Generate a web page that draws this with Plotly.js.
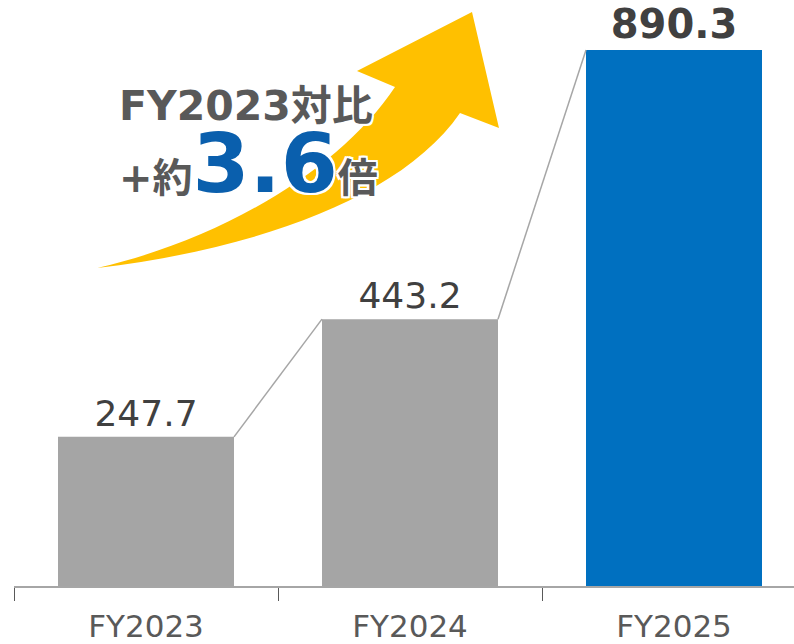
<!DOCTYPE html>
<html>
<head>
<meta charset="utf-8">
<script src="https://cdn.plot.ly/plotly-3.0.1.min.js"></script>
<style>html,body{margin:0;padding:0;background:#fff;}</style>
</head>
<body>
<div id="chart" style="width:794px;height:644px;"></div>
<script>
var categories = ["FY2023", "FY2024", "FY2025"];
var values = [247.7, 443.2, 890.3];
var barColors = ["#a5a5a5", "#a5a5a5", "#0070c0"];
var calloutLine1 = "FY2023対比";
var calloutPrefix = "+約";
var calloutRatio = "3.6";
var calloutSuffix = "倍";

var FONT = 'DejaVu Sans, "Noto Sans CJK JP", sans-serif';
var W = 794, H = 644, ML = 14, MR = 0, MT = 0, MB = 58;
var PW = W - ML - MR, PH = H - MT - MB;
function px(x) { return (x - ML) / PW; }
function py(y) { return (H - MB - y) / PH; }

var halfBar = 1 / 3;

var shapes = [];
// connector lines between bar tops
for (var i = 0; i < values.length - 1; i++) {
  shapes.push({
    type: "line", xref: "x", yref: "y",
    x0: i + halfBar, y0: values[i],
    x1: i + 1 - halfBar, y1: values[i + 1],
    line: {color: "#a6a6a6", width: 1.5}
  });
}
// curved arrow (decoration), pixel points converted to paper
var arrowPts = [
  ["M", 97, 268],
  ["C", 250, 250, 400, 200, 460, 113],
  ["L", 499, 128],
  ["L", 472, 12],
  ["L", 357, 71],
  ["L", 395, 87],
  ["C", 340, 170, 220, 240, 97, 268]
];
var path = arrowPts.map(function (seg) {
  var s = seg[0];
  var parts = [];
  for (var k = 1; k < seg.length; k += 2) {
    parts.push(px(seg[k]).toFixed(5) + "," + py(seg[k + 1]).toFixed(5));
  }
  return s + parts.join(" ");
}).join(" ") + " Z";
shapes.push({
  type: "path", xref: "paper", yref: "paper", path: path,
  fillcolor: "#ffc000", line: {width: 0}, layer: "above"
});

var outline = "2px 2px 0 #fff, -2px -2px 0 #fff, 2px -2px 0 #fff, -2px 2px 0 #fff, 0 2px 0 #fff, 2px 0 0 #fff, 0 -2px 0 #fff, -2px 0 0 #fff";

var annotations = [
  {
    xref: "paper", yref: "paper", x: px(246), y: py(106),
    xanchor: "center", yanchor: "middle", showarrow: false,
    text: calloutLine1,
    font: {family: FONT, size: 41, color: "#595959", weight: "bold", shadow: outline}
  },
  {
    xref: "paper", yref: "paper", x: px(248), y: py(163),
    xanchor: "center", yanchor: "middle", showarrow: false,
    text: calloutPrefix + "<span style='font-size:82px;color:#0a5fad'>" + calloutRatio + "</span>" + calloutSuffix,
    font: {family: FONT, size: 40, color: "#595959", weight: "bold", shadow: outline}
  }
];

var trace = {
  type: "bar",
  x: categories,
  y: values,
  marker: {color: barColors},
  text: values.map(function (v) { return v.toFixed(1); }),
  textposition: "outside",
  cliponaxis: false,
  textfont: {
    family: FONT,
    size: [36, 36, 40],
    color: "#404040",
    weight: ["normal", "normal", "bold"]
  },
  hoverinfo: "skip"
};

var layout = {
  width: W, height: H,
  margin: {l: ML, r: MR, t: MT, b: MB, pad: 0},
  paper_bgcolor: "#ffffff",
  plot_bgcolor: "#ffffff",
  showlegend: false,
  bargap: 1 / 3,
  xaxis: {
    type: "category",
    categoryorder: "array",
    categoryarray: categories,
    range: [-0.5, -0.5 + PW / 264],
    tickson: "boundaries",
    ticks: "outside",
    ticklen: 13,
    tickwidth: 1,
    tickcolor: "#595959",
    ticklabelstandoff: 12,
    showline: true,
    linecolor: "#a6a6a6",
    linewidth: 1.5,
    showgrid: false,
    zeroline: false,
    tickfont: {family: FONT, size: 31, color: "#595959"},
    fixedrange: true
  },
  yaxis: {
    range: [0, PH * 890.3 / 536],
    visible: false,
    showgrid: false,
    zeroline: false,
    fixedrange: true
  },
  shapes: shapes,
  annotations: annotations
};

Plotly.newPlot("chart", [trace], layout, {staticPlot: true, displayModeBar: false});
</script>
</body>
</html>
